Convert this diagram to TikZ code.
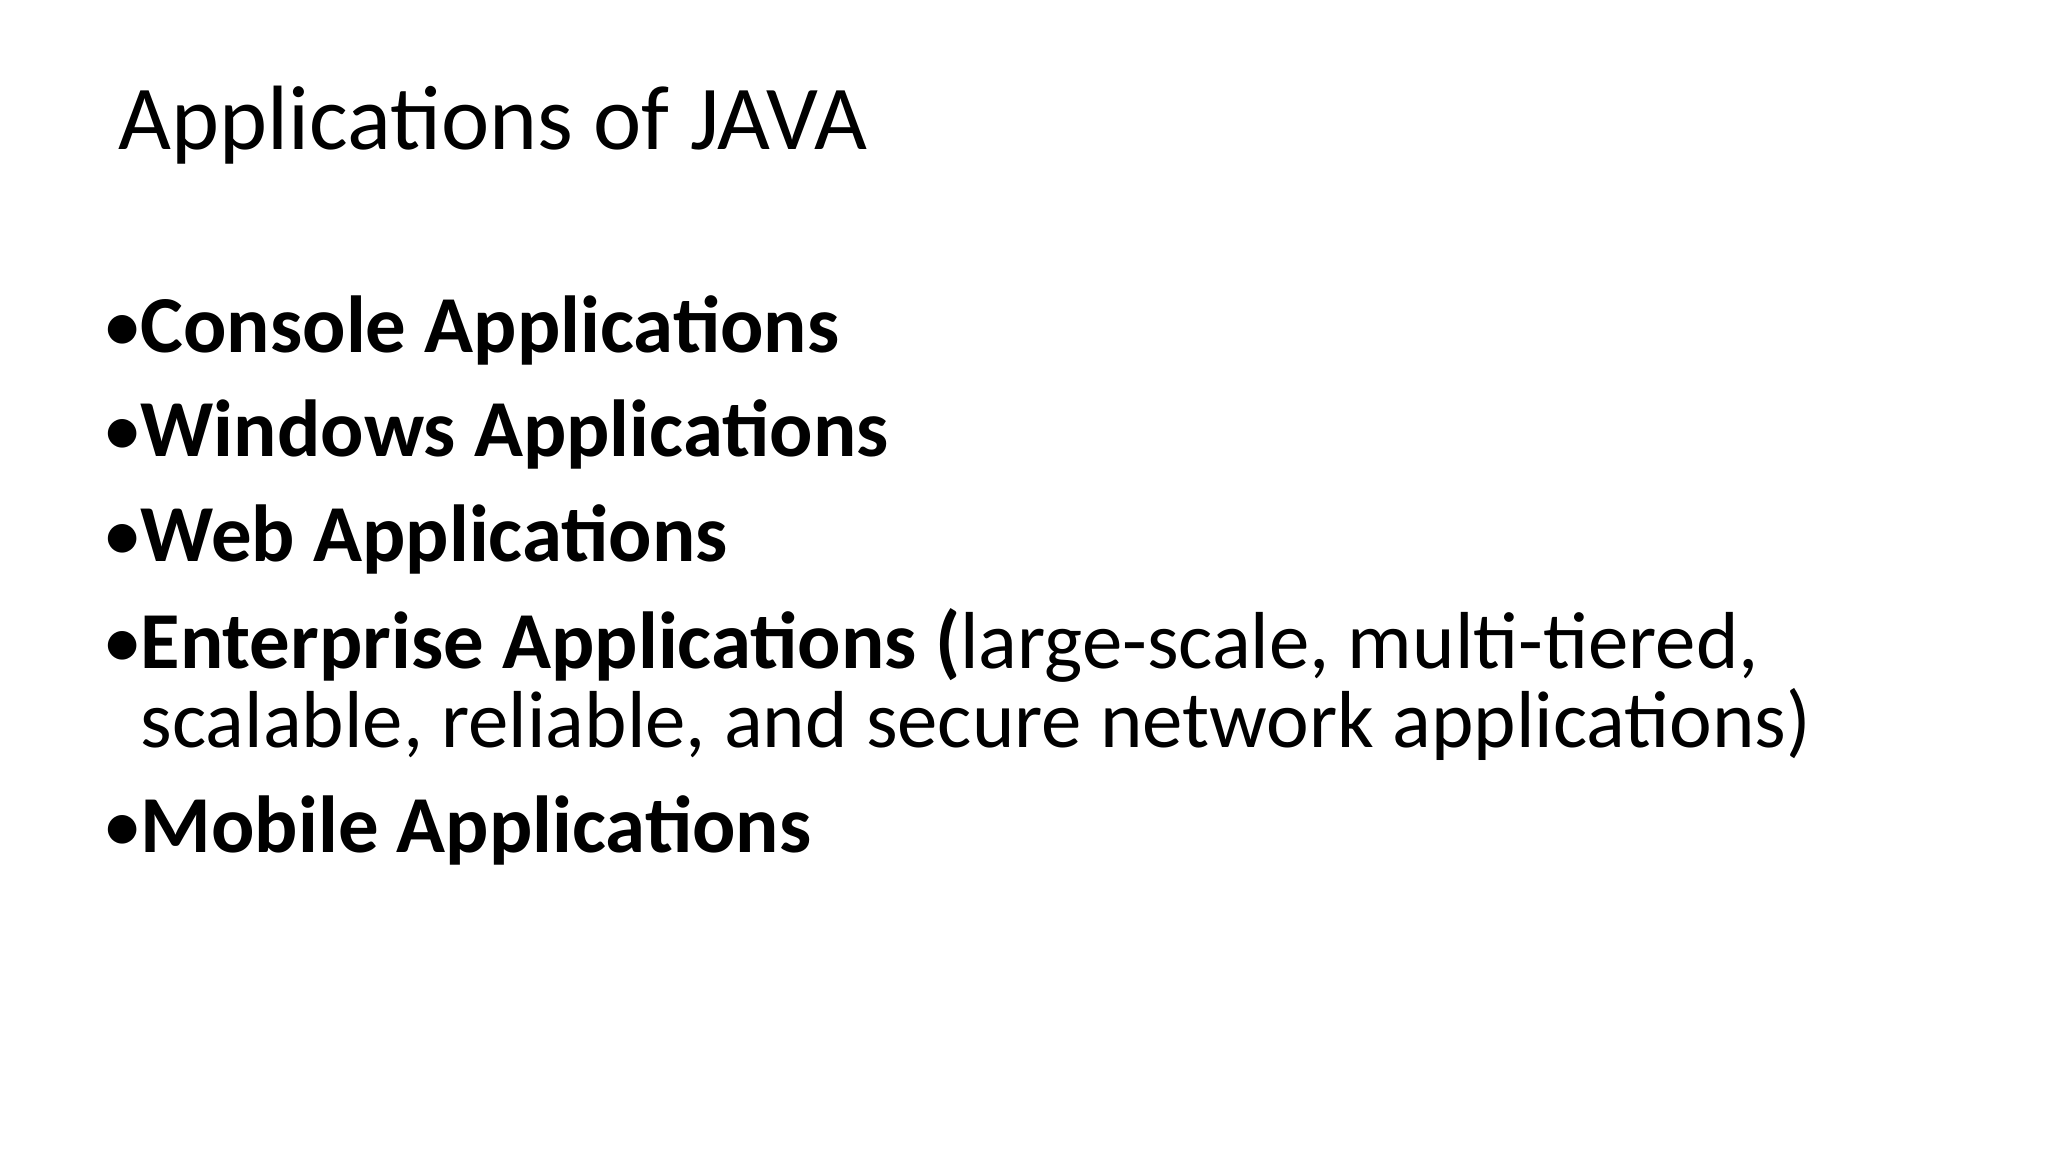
\documentclass[tikz,border=0pt]{standalone}
\usepackage{fontspec}
\setmainfont{Carlito}
\begin{document}
\begin{tikzpicture}[x=1cm,y=1cm,
  txt/.style={anchor=base west,inner sep=0pt,font=\fontsize{23}{28}\selectfont},
  bul/.style={anchor=base west,inner sep=0pt,font=\fontsize{23}{28}\selectfont}]
\useasboundingbox (0,0) rectangle (20.48,11.52);
\node[anchor=base west,inner sep=0pt,font=\fontsize{26}{31}\selectfont] (title) at (1.18,10.02) {Applications of JAVA};
\node[bul] (b1) at (1.02,7.99) {•};
\node[txt] (t1) at (1.40,7.99) {\textbf{Console Applications}};
\node[bul] (b2) at (1.02,6.95) {•};
\node[txt] (t2) at (1.40,6.95) {\textbf{Windows Applications}};
\node[bul] (b3) at (1.02,5.90) {•};
\node[txt] (t3) at (1.40,5.90) {\textbf{Web Applications}};
\node[bul] (b4) at (1.02,4.83) {•};
\node[txt] (t4) at (1.40,4.83) {\textbf{Enterprise Applications (}large-scale, multi-tiered,};
\node[txt] (t4b) at (1.40,4.04) {scalable, reliable, and secure network applications)};
\node[bul] (b5) at (1.02,2.99) {•};
\node[txt] (t5) at (1.40,2.99) {\textbf{Mobile Applications}};
\end{tikzpicture}
\end{document}
